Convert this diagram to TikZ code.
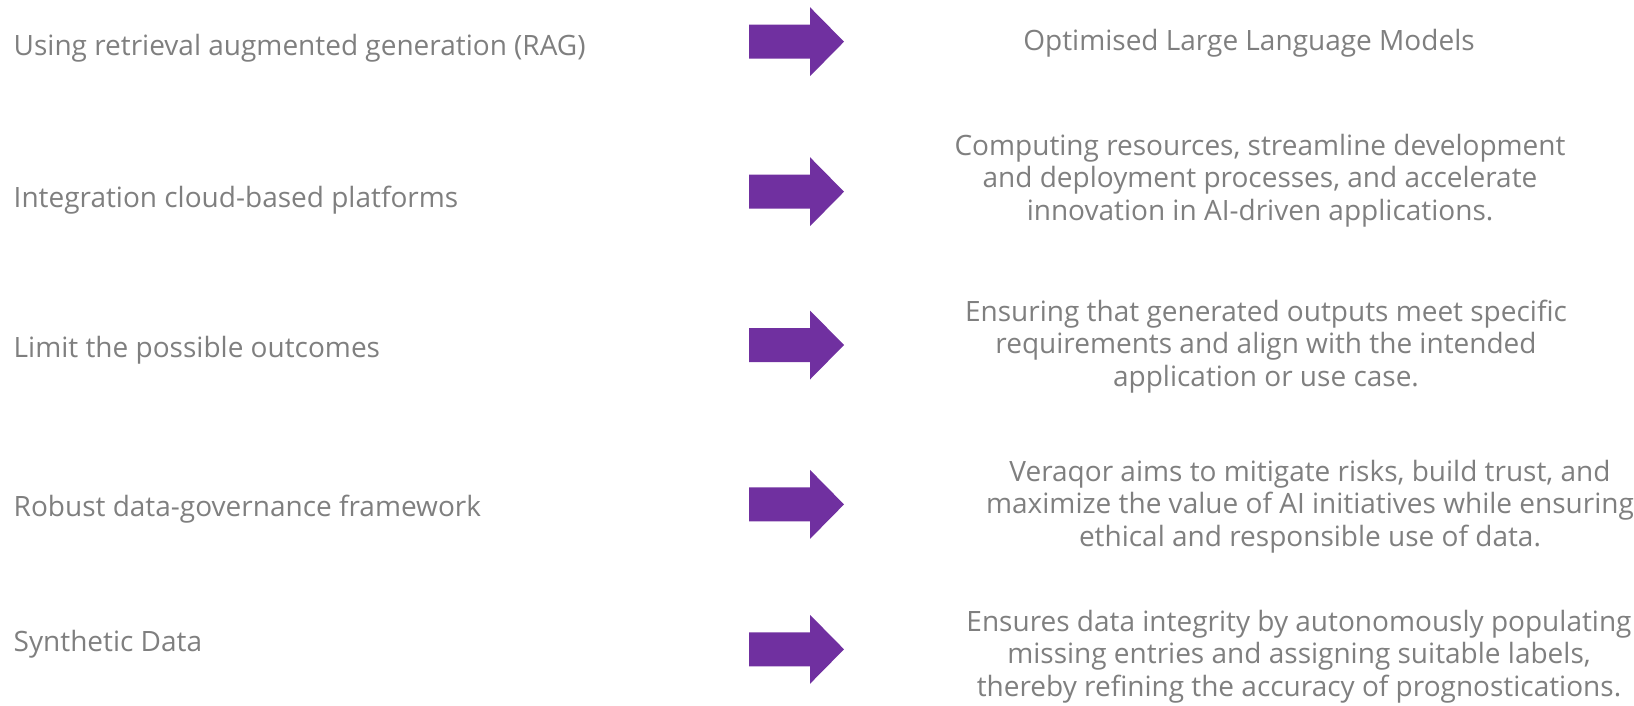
\documentclass[tikz,border=0pt]{standalone}
\usepackage{fontspec}
\setmainfont{Open Sans}
\definecolor{txtgray}{HTML}{7F7F7F}
\definecolor{arrowpurple}{HTML}{7030A0}
\begin{document}
\begin{tikzpicture}[x=1pt,y=-1pt,
  lefttext/.style={anchor=base west,inner sep=0pt,text=txtgray,font=\fontsize{28}{32.7}\selectfont},
  righttext/.style={anchor=center,inner sep=0pt,align=center,text=txtgray,font=\fontsize{28}{32.7}\selectfont},
  fatarrow/.style={fill=arrowpurple}]
\useasboundingbox (0,0) rectangle (1634,705);
\newcommand{\bigarrow}[1]{%
  \fill[fatarrow] (749,#1-17) -- (810,#1-17) -- (810,#1-34.5) -- (844,#1) -- (810,#1+34.5) -- (810,#1+17) -- (749,#1+17) -- cycle;}
\bigarrow{41.7}
\bigarrow{191.7}
\bigarrow{345}
\bigarrow{504.4}
\bigarrow{649.3}
\node[lefttext] (l1) at (13.5,55) {Using retrieval augmented generation (RAG)};
\node[lefttext] (l2) at (13.5,207.5) {Integration cloud-based platforms};
\node[lefttext] (l3) at (13.5,357) {Limit the possible outcomes};
\node[lefttext] (l4) at (13.5,516.5) {Robust data-governance framework};
\node[lefttext] (l5) at (13.5,651) {Synthetic Data};
\node[righttext,anchor=base] (r1) at (1249,50.5) {Optimised Large Language Models};
\node[righttext] (r2) at (1260,180.5) {Computing resources, streamline development\\and deployment processes, and accelerate\\innovation in AI-driven applications.};
\node[righttext] (r3) at (1266,346.5) {Ensuring that generated outputs meet specific\\requirements and align with the intended\\application or use case.};
\node[righttext] (r4) at (1310,506.5) {Veraqor aims to mitigate risks, build trust, and\\maximize the value of AI initiatives while ensuring\\ethical and responsible use of data.};
\node[righttext] (r5) at (1299,656.5) {Ensures data integrity by autonomously populating\\missing entries and assigning suitable labels,\\thereby refining the accuracy of prognostications.};
\end{tikzpicture}
\end{document}
